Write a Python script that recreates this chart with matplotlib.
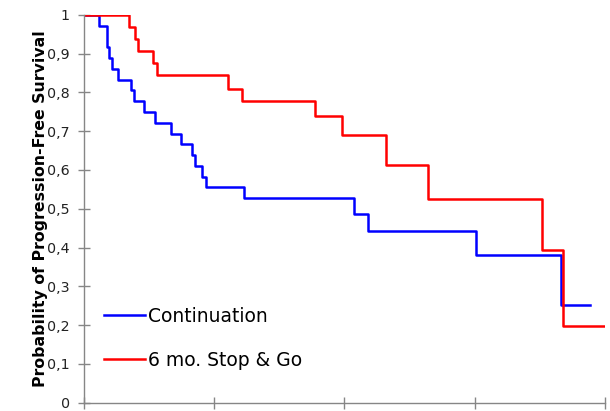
import matplotlib
matplotlib.use("Agg")
import matplotlib.pyplot as plt
from matplotlib.ticker import FixedLocator

# Kaplan-Meier curves (time in months, survival)
cont_time = [0, 1.45, 2.13, 2.35, 2.59, 3.17, 4.37, 4.67, 5.57, 6.61, 8.05,
             8.97, 9.96, 10.26, 10.93, 11.25, 14.80, 24.92, 26.21, 36.12,
             43.94, 46.61]
cont_surv = [1, 0.972, 0.917, 0.889, 0.861, 0.833, 0.806, 0.778, 0.750,
             0.722, 0.694, 0.667, 0.639, 0.611, 0.583, 0.556, 0.528, 0.487,
             0.443, 0.380, 0.253, 0.253]

stop_time = [0, 4.21, 4.74, 5.04, 6.42, 6.74, 13.27, 14.56, 21.30, 23.76,
             27.84, 31.68, 42.17, 44.15, 48.0]
stop_surv = [1, 0.969, 0.938, 0.906, 0.875, 0.844, 0.810, 0.777, 0.738,
             0.689, 0.612, 0.525, 0.394, 0.197, 0.197]

labels = ["Continuation", "6 mo. Stop & Go"]
y_ticks = [0, 0.1, 0.2, 0.3, 0.4, 0.5, 0.6, 0.7, 0.8, 0.9, 1]
y_ticklabels = ["0", "0,1", "0,2", "0,3", "0,4", "0,5", "0,6", "0,7",
                "0,8", "0,9", "1"]
x_ticks = [0, 12, 24, 36, 48]

fig = plt.figure(figsize=(6.1, 4.11), dpi=100)
ax = fig.add_axes([0.137, 0.02, 0.855, 0.944])

ax.step(cont_time, cont_surv, where="post", color="#0000ff", lw=1.8,
        label=labels[0])
ax.step(stop_time, stop_surv, where="post", color="#ff0000", lw=1.8,
        label=labels[1])

ax.set_xlim(0, 48)
ax.set_ylim(0, 1)
ax.xaxis.set_major_locator(FixedLocator(x_ticks))
ax.set_xticklabels([])
ax.set_yticks(y_ticks)
ax.set_yticklabels(y_ticklabels)

grey = "#868686"
for side in ["top", "right"]:
    ax.spines[side].set_visible(False)
for side in ["left", "bottom"]:
    ax.spines[side].set_color(grey)
    ax.spines[side].set_linewidth(1.0)
ax.tick_params(axis="both", direction="inout", length=8, width=1.0,
               color=grey, labelsize=10.3, labelcolor="#222222", pad=6)

ax.set_ylabel("Probability of Progression-Free Survival", fontsize=11.3,
              fontweight="bold")
ax.yaxis.set_label_coords(-0.068, 0.5)

ax.legend(loc="center left", bbox_to_anchor=(0.04, 0.166), frameon=False,
          fontsize=13.5, handlelength=2.15, handletextpad=0.15,
          labelspacing=1.35, borderpad=0, borderaxespad=0)

fig.savefig("out.png", dpi=100)
